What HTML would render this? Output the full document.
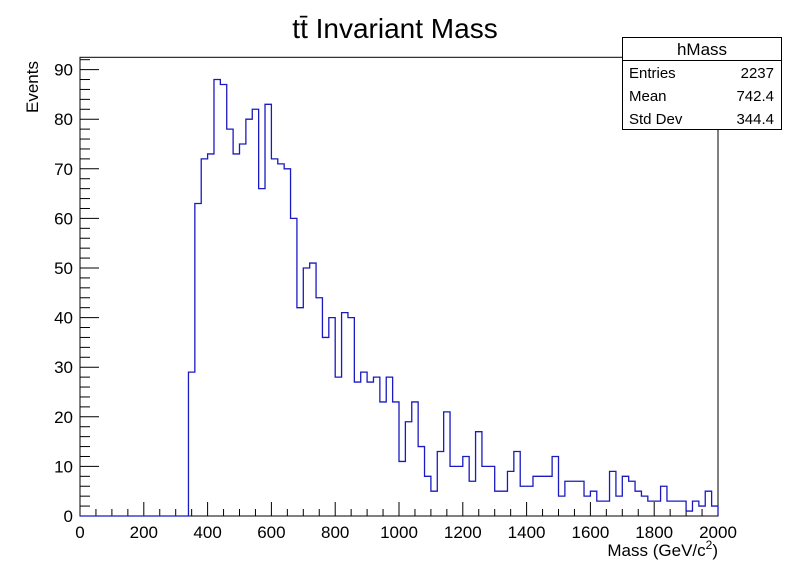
<!DOCTYPE html>
<html><head><meta charset="utf-8"><style>
body{margin:0;background:#fff;}
svg text{font-family:"Liberation Sans",Arial,sans-serif;}
</style></head><body>
<svg id="chart" width="798" height="574" xmlns="http://www.w3.org/2000/svg">
<rect width="798" height="574" fill="#fff"/>
<text x="395" y="38" font-size="28" text-anchor="middle">tt̄ Invariant Mass</text>
<g id="frame"></g>
<g id="axes"></g>
<path id="hist" fill="none" stroke="#1a1ac0" stroke-width="1.3"/>
<text x="718" y="556" font-size="17" text-anchor="end">Mass (GeV/c<tspan dy="-7" font-size="12">2</tspan><tspan dy="7">)</tspan></text>
<text transform="translate(38,113) rotate(-90)" font-size="17" text-anchor="start">Events</text>
<g>
<rect x="622.5" y="37.5" width="159" height="92" fill="#fff" stroke="#000" stroke-width="1"/>
<line x1="622.5" y1="60.5" x2="781.5" y2="60.5" stroke="#000"/>
<text x="702" y="55" font-size="17" text-anchor="middle">hMass</text>
<text x="629" y="78" font-size="15">Entries</text>
<text x="774" y="78" font-size="15" text-anchor="end">2237</text>
<text x="629" y="101" font-size="15">Mean</text>
<text x="774" y="101" font-size="15" text-anchor="end">742.4</text>
<text x="629" y="124" font-size="15">Std Dev</text>
<text x="774" y="124" font-size="15" text-anchor="end">344.4</text>
</g>
</svg>
<script>
const binLow = 0, binWidth = 20;
const counts = [0,0,0,0,0,0,0,0,0,0,0,0,0,0,0,0,0,29,63,72,
73,88,87,78,73,75,80,82,66,83,72,71,70,60,42,50,51,44,36,40,
28,41,40,27,29,27,28,23,28,23,11,19,23,14,8,5,13,21,10,10,
12,7,17,10,10,5,5,9,13,6,6,8,8,8,12,4,7,7,7,4,
5,3,3,9,4,8,7,5,4,3,3,6,3,3,3,1,3,2,5,2];
const xTicks = [0,200,400,600,800,1000,1200,1400,1600,1800,2000];
const yTicks = [0,10,20,30,40,50,60,70,80,90];
const X0=80,X1=718,Y0=516,YT=57.3;
const xs = v => X0 + (v-0)/2000*(X1-X0);
const ys = v => Y0 - v*4.96;
const NS="http://www.w3.org/2000/svg";
const svg=document.getElementById('chart');
const ax=document.getElementById('axes');
const fr=document.getElementById('frame');
const r=document.createElementNS(NS,'rect');
r.setAttribute('x',X0);r.setAttribute('y',YT);r.setAttribute('width',X1-X0);r.setAttribute('height',Y0-YT);
r.setAttribute('fill','none');r.setAttribute('stroke','#000');r.setAttribute('stroke-width','1');


fr.appendChild(r);
function line(x1,y1,x2,y2){const l=document.createElementNS(NS,'line');l.setAttribute('x1',x1);l.setAttribute('y1',y1);l.setAttribute('x2',x2);l.setAttribute('y2',y2);l.setAttribute('stroke','#000');l.setAttribute('stroke-width','1');ax.appendChild(l);return l;}
for(let v=0;v<=2000;v+=50){const x=xs(v);const maj=v%200===0;const l=line(x,Y0,x,Y0-(maj?14:7));

}
xTicks.forEach(v=>{const t=document.createElementNS(NS,'text');t.setAttribute('x',xs(v));t.setAttribute('y',Y0+22);t.setAttribute('font-size','17');t.setAttribute('text-anchor','middle');t.textContent=v;


ax.appendChild(t);});
for(let v=0;v<=92;v+=2){const y=ys(v);if(y<YT)break;const maj=v%10===0;const l=line(X0,y,X0+(maj?19:10),y);

}
yTicks.forEach(v=>{const t=document.createElementNS(NS,'text');t.setAttribute('x',X0-7);t.setAttribute('y',ys(v)+6);t.setAttribute('font-size','17');t.setAttribute('text-anchor','end');t.textContent=v;


ax.appendChild(t);});
let d='M'+xs(binLow)+','+ys(0);
counts.forEach((c,i)=>{const a=xs(binLow+i*binWidth),b=xs(binLow+(i+1)*binWidth);d+=' L'+a+','+ys(c)+' L'+b+','+ys(c);});
d+=' L'+xs(binLow+counts.length*binWidth)+','+ys(0);
document.getElementById('hist').setAttribute('d',d);
</script>
</body></html>
